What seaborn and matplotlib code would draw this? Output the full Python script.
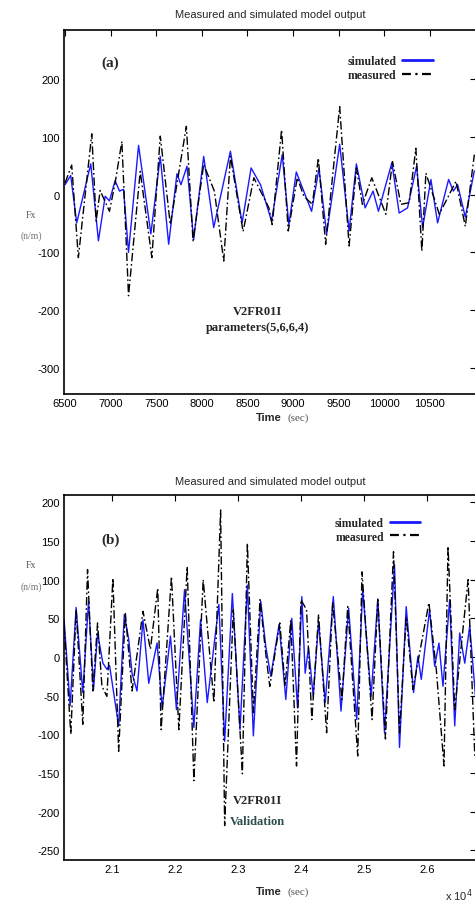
import numpy as np
import pandas as pd
import seaborn as sns
import matplotlib.pyplot as plt
from matplotlib.lines import Line2D

# panel (a) - identification run, turning points
sim_a_t = [6500, 6562, 6628, 6782, 6866, 6940, 6987, 7049, 7097, 7141, 7196, 7306, 7441, 7544,
           7636, 7727, 7771, 7837, 7910, 8020, 8130, 8313, 8441, 8540, 8643, 8764, 8881, 8954,
           9035, 9203, 9284, 9368, 9511, 9614, 9694, 9790, 9877, 9936, 10083, 10163, 10255,
           10354, 10420, 10511, 10584, 10705, 10757, 10804, 10888, 10987]
sim_a_f = [17, 33, -49, 53, -80, -3, -11, 24, 6, 9, -100, 85, -68, 66,
           -86, 36, 17, 49, -78, 66, -57, 75, -49, 46, 17, -46, 69, -52,
           39, -29, 45, -68, 87, -63, 53, -23, 6, -29, 55, -32, -23,
           49, -57, 26, -49, 26, 6, 17, -39, 41]

meas_a_t = [6500, 6573, 6646, 6793, 6841, 6885, 6987, 7049, 7123, 7196, 7324, 7452, 7544, 7654,
            7830, 7903, 8020, 8137, 8240, 8313, 8452, 8570, 8735, 8771, 8874, 8947, 9046, 9119,
            9211, 9277, 9357, 9511, 9614, 9694, 9760, 9863, 10017, 10090, 10182, 10273, 10346,
            10412, 10456, 10603, 10786, 10888, 10987]
meas_a_f = [20, 51, -109, 105, -46, 7, -29, 20, 92, -175, 40, -109, 101, -52,
            118, -80, 52, 6, -115, 66, -64, 29, -23, -52, 112, -63, 29, -3,
            -17, 63, -86, 152, -89, 46, -17, 29, -34, 57, -17, -14, 80,
            -98, 37, -34, 23, -55, 69]

# panel (b) - validation run
sim_b_t = [20242, 20337, 20432, 20538, 20629, 20708, 20772, 20856, 20920, 20962, 21106, 21196,
           21265, 21318, 21397, 21492, 21583, 21715, 21795, 21927, 22022, 22150, 22298, 22404,
           22510, 22695, 22786, 22908, 23029, 23146, 23241, 23358, 23437, 23517, 23649, 23755,
           23850, 23941, 24009, 24062, 24115, 24190, 24274, 24380, 24508, 24630, 24751, 24879,
           24974, 25107, 25213, 25319, 25478, 25557, 25663, 25780, 25849, 25902, 26034, 26114,
           26182, 26246, 26352, 26432, 26511, 26591, 26670, 26765]
sim_b_f = [48, -63, 64, -46, 72, -42, 31, -8, -16, -11, -89, 55,
           23, -21, -44, 48, -34, 18, -66, 27, -68, 87, -91, 48,
           -59, 68, -109, 82, -94, 93, -102, 72, 14, -25, 42, -55,
           50, -66, 78, -21, 12, -51, 46, -59, 78, -70, 63, -81,
           87, -51, 75, -98, 119, -117, 65, -46, 1, -29, 61, -12,
           18, -38, 74, -89, 31, -8, 40, -55]

meas_b_t = [20242, 20348, 20432, 20538, 20613, 20697, 20772, 20841, 20920, 21015, 21106, 21212,
            21318, 21492, 21609, 21726, 21779, 21943, 22060, 22192, 22298, 22446, 22616, 22722,
            22786, 22923, 23067, 23146, 23241, 23347, 23437, 23501, 23660, 23744, 23834, 23925,
            23994, 24084, 24168, 24274, 24402, 24497, 24645, 24736, 24895, 24963, 25122, 25213,
            25334, 25462, 25557, 25663, 25769, 26023, 26140, 26262, 26326, 26432, 26644, 26750]
meas_b_f = [40, -100, 61, -87, 113, -44, 44, -38, -51, 102, -122, 57,
            -44, 59, 10, 89, -94, 104, -94, 117, -160, 100, -59, 190,
            -218, 61, -151, 147, -72, 74, 5, -38, 44, -38, 48, -141,
            74, 61, -81, 55, -98, 70, -55, 65, -128, 110, -81, 74,
            -106, 136, -98, 52, -42, 70, -16, -141, 143, -68, 100, -128]

df_a = pd.concat([pd.DataFrame({"t": sim_a_t, "Fx": sim_a_f, "series": "simulated"}),
                  pd.DataFrame({"t": meas_a_t, "Fx": meas_a_f, "series": "measured"})])
df_b = pd.concat([pd.DataFrame({"t": sim_b_t, "Fx": sim_b_f, "series": "simulated"}),
                  pd.DataFrame({"t": meas_b_t, "Fx": meas_b_f, "series": "measured"})])

sns.set_style("white")
plt.rcParams["font.family"] = ["Liberation Sans", "DejaVu Sans"]
plt.rcParams["axes.unicode_minus"] = False

fig = plt.figure(figsize=(4.75, 9.04), dpi=100)
ax_a = fig.add_axes([0.135, 0.563, 0.868, 0.403])
ax_b = fig.add_axes([0.135, 0.048, 0.868, 0.403])

pal = {"simulated": "#1a1aff", "measured": "black"}
dash = {"simulated": "", "measured": (6, 2, 1.2, 2)}
serif = {"family": "Liberation Serif", "weight": "bold"}

for ax, df in [(ax_a, df_a), (ax_b, df_b)]:
    sns.lineplot(data=df, x="t", y="Fx", hue="series", style="series", palette=pal,
                 dashes=dash, estimator=None, sort=True, legend=False, ax=ax, linewidth=1.0)
    for s in ax.spines.values():
        s.set_color("black")
        s.set_linewidth(1.2)
    ax.tick_params(direction="in", top=True, right=True, length=4, width=0.8,
                   labelsize=8, colors="black", pad=3)
    ax.set_xlabel("")
    ax.set_ylabel("")
    handles = [Line2D([], [], color="#1a1aff", lw=2.0),
               Line2D([], [], color="black", lw=1.6, dashes=(4, 2, 1, 2))]
    ax.legend(handles, ["simulated", "measured"], frameon=False, markerfirst=False,
              handlelength=2.6, handletextpad=0.5, labelspacing=0.15,
              prop={"family": "Liberation Serif", "weight": "bold", "size": 8.5})

ax_a.set_xlim(6490, 11010)
ax_a.set_ylim(-345, 285)
ax_a.set_xticks(np.arange(6500, 11000, 500))
ax_a.set_yticks(np.arange(-300, 201, 100))
ax_a.get_legend().set_bbox_to_anchor((0.92, 0.96), transform=ax_a.transAxes)
ax_a.get_legend()._loc = 1
ax_a.text(0.09, 0.9, "(a)", transform=ax_a.transAxes, fontsize=11, **serif)
ax_a.text(0.47, 0.22, "V2FR01I", transform=ax_a.transAxes, ha="center", fontsize=9, **serif)
ax_a.text(0.47, 0.175, "parameters(5,6,6,4)", transform=ax_a.transAxes, ha="center",
          fontsize=9, **serif)

ax_b.set_xlim(20242, 26776)
ax_b.set_ylim(-262, 209)
ax_b.set_xticks(np.arange(21000, 26001, 1000))
ax_b.set_xticklabels(["2.1", "2.2", "2.3", "2.4", "2.5", "2.6"])
ax_b.set_yticks(np.arange(-250, 201, 50))
ax_b.get_legend().set_bbox_to_anchor((0.89, 0.97), transform=ax_b.transAxes)
ax_b.get_legend()._loc = 1
ax_b.text(0.09, 0.87, "(b)", transform=ax_b.transAxes, fontsize=11, **serif)
ax_b.text(0.47, 0.155, "V2FR01I", transform=ax_b.transAxes, ha="center", fontsize=9, **serif)
ax_b.text(0.47, 0.098, "Validation", transform=ax_b.transAxes, ha="center", fontsize=9,
          color="#2f4f4f", **serif)

for y_title, y_time, y_fx in [(15, 418, 215), (482, 892, 566)]:
    fig.text(270 / 475, 1 - y_title / 904, "Measured and simulated model output",
             ha="center", va="center", fontsize=8)
    fig.text(282 / 475, 1 - y_time / 904, "Time", ha="right", va="center", fontsize=8,
             weight="bold")
    fig.text(287 / 475, 1 - y_time / 904, "(sec)", ha="left", va="center", fontsize=8,
             color="#555555", family="Liberation Serif")
    fig.text(31 / 475, 1 - y_fx / 904, "Fx", ha="center", va="center", fontsize=7,
             color="#555555", family="Liberation Serif")
    fig.text(31 / 475, 1 - (y_fx + 21) / 904, "(n/m)", ha="center", va="center", fontsize=7,
             color="#777777", family="Liberation Serif")

fig.text(473 / 475, 1 - 896 / 904, r"x 10$^4$", ha="right", va="center", fontsize=8)

fig.savefig("out.png", dpi=100)
